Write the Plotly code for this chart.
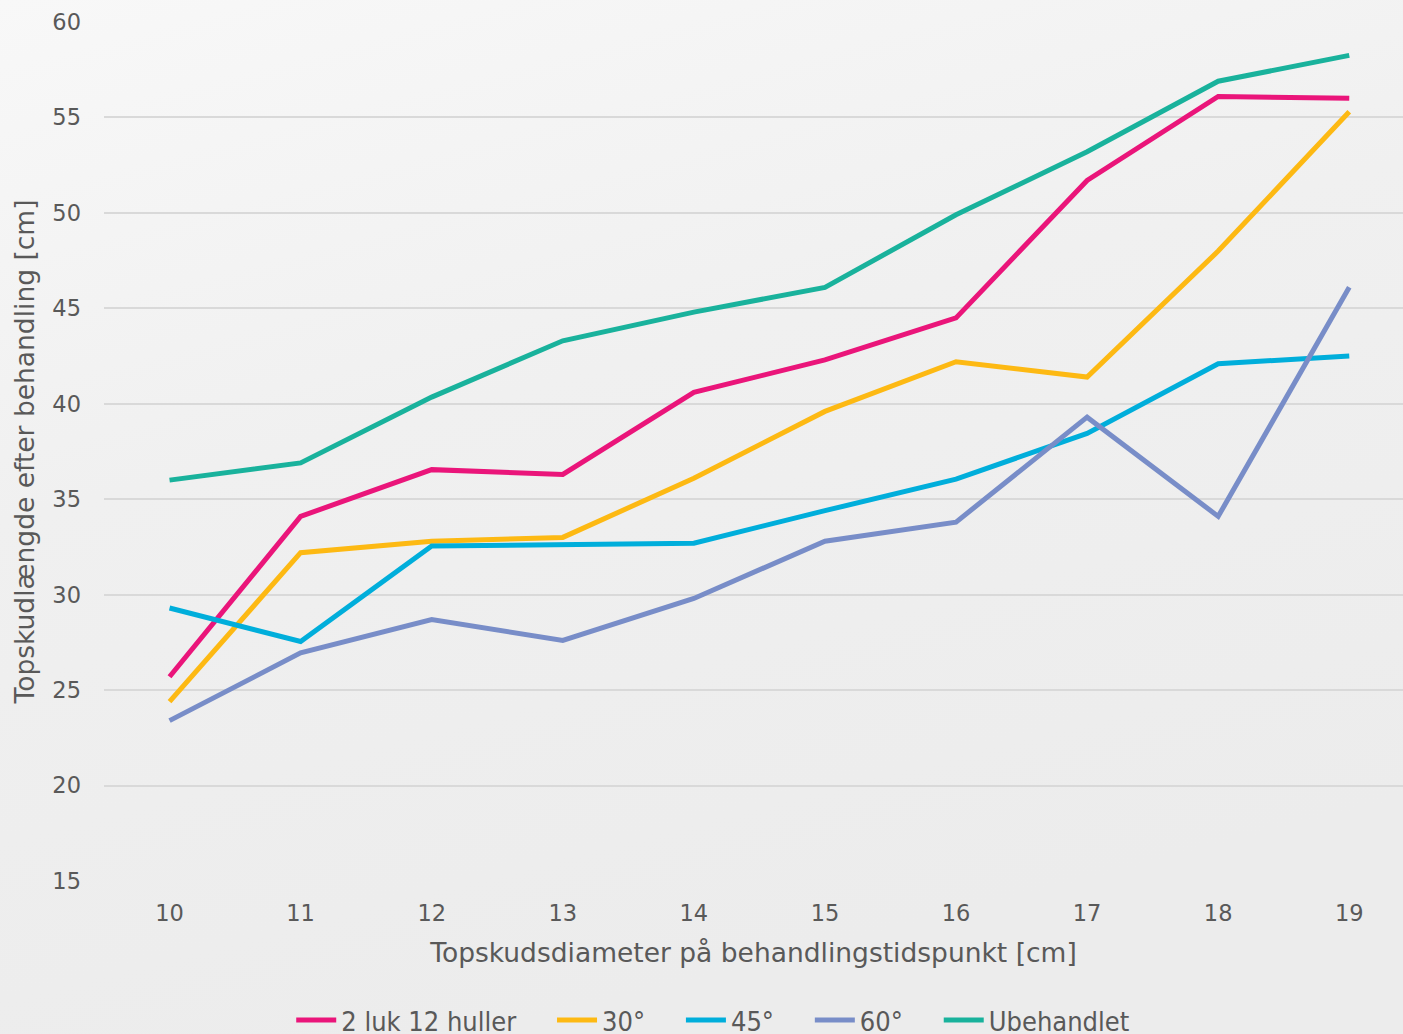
import urllib.parse
import plotly.graph_objects as go

categories = ["10", "11", "12", "13", "14", "15", "16", "17", "18", "19"]
luk_12_huller = [25.7, 34.1, 36.55, 36.3, 40.6, 42.3, 44.5, 51.7, 56.1, 56.0]
grad_30 = [24.4, 32.2, 32.8, 33.0, 36.1, 39.6, 42.2, 41.4, 48.0, 55.3]
grad_45 = [29.3, 27.55, 32.55, 32.65, 32.7, 34.4, 36.05, 38.45, 42.1, 42.5]
grad_60 = [23.4, 26.95, 28.7, 27.6, 29.8, 32.8, 33.8, 39.3, 34.1, 46.1]
ubehandlet = [36.0, 36.9, 40.35, 43.3, 44.8, 46.1, 49.9, 53.2, 56.9, 58.25]

series_names = ["2 luk 12 huller", "30°", "45°", "60°", "Ubehandlet"]
series_values = [luk_12_huller, grad_30, grad_45, grad_60, ubehandlet]
series_colors = ["#EA157A", "#FDB913", "#00AEDB", "#788DC8", "#19B29C"]

y_ticks = [15, 20, 25, 30, 35, 40, 45, 50, 55, 60]

font_main = "DejaVu Sans, Verdana, sans-serif"
text_color = "#595959"

pad = "\u00a0\u00a0\u00a0\u00a0"

fig = go.Figure()
for i, (name, vals, col) in enumerate(zip(series_names, series_values, series_colors)):
    label = name + (pad if i < len(series_names) - 1 else "")
    fig.add_trace(go.Scatter(
        x=categories, y=vals, name=label, mode="lines",
        line=dict(color=col, width=5),
    ))

# soft background gradient (lighter at top-left)
svg = ("<svg xmlns='http://www.w3.org/2000/svg' width='1403' height='1034' preserveAspectRatio='none'>"
       "<defs><linearGradient id='g' x1='0' y1='0' x2='0.35' y2='1'>"
       "<stop offset='0' stop-color='#f8f8f8'/>"
       "<stop offset='0.45' stop-color='#f0f0f0'/>"
       "<stop offset='1' stop-color='#ececec'/>"
       "</linearGradient></defs>"
       "<rect width='1403' height='1034' fill='url(#g)'/></svg>")
bg_uri = "data:image/svg+xml;charset=utf-8," + urllib.parse.quote(svg)

fig.update_layout(
    width=1403, height=1034,
    margin=dict(l=104, r=0, t=22, b=153),
    paper_bgcolor="#EDEDED",
    plot_bgcolor="rgba(0,0,0,0)",
    font=dict(family=font_main, color=text_color, size=22),
    images=[dict(source=bg_uri, xref="paper", yref="paper",
                 x=-104 / 1299, y=1 + 22 / 859,
                 sizex=1403 / 1299, sizey=1034 / 859,
                 xanchor="left", yanchor="top", sizing="stretch", layer="below")],
    showlegend=True,
    legend=dict(
        orientation="h",
        xref="container", yref="container",
        x=0.508, xanchor="center",
        y=0.013, yanchor="middle",
        font=dict(family="DejaVu Sans Condensed, DejaVu Sans, sans-serif", size=27, color=text_color),
        itemwidth=40,
        bgcolor="rgba(0,0,0,0)",
    ),
    xaxis=dict(
        type="category",
        range=[-0.5, 9.41],
        showgrid=False,
        zeroline=False,
        showline=False,
        ticks="",
        tickfont=dict(size=22.5, color=text_color),
        ticklabelstandoff=16,
        title=dict(text="Topskudsdiameter på behandlingstidspunkt [cm]",
                   font=dict(size=26.5, color=text_color), standoff=18),
    ),
    yaxis=dict(
        range=[15, 60],
        tickvals=y_ticks,
        showgrid=True,
        gridcolor="#D9D9D9",
        gridwidth=2,
        zeroline=False,
        showline=False,
        ticks="",
        tickfont=dict(size=22.5, color=text_color),
        ticklabelstandoff=22,
        title=dict(text="Topskudlængde efter behandling [cm]",
                   font=dict(size=26.5, color=text_color), standoff=10),
    ),
)

fig.write_html("out.html", config={"displayModeBar": False},
               post_script="document.body.style.margin='0';document.body.style.overflow='hidden';")
